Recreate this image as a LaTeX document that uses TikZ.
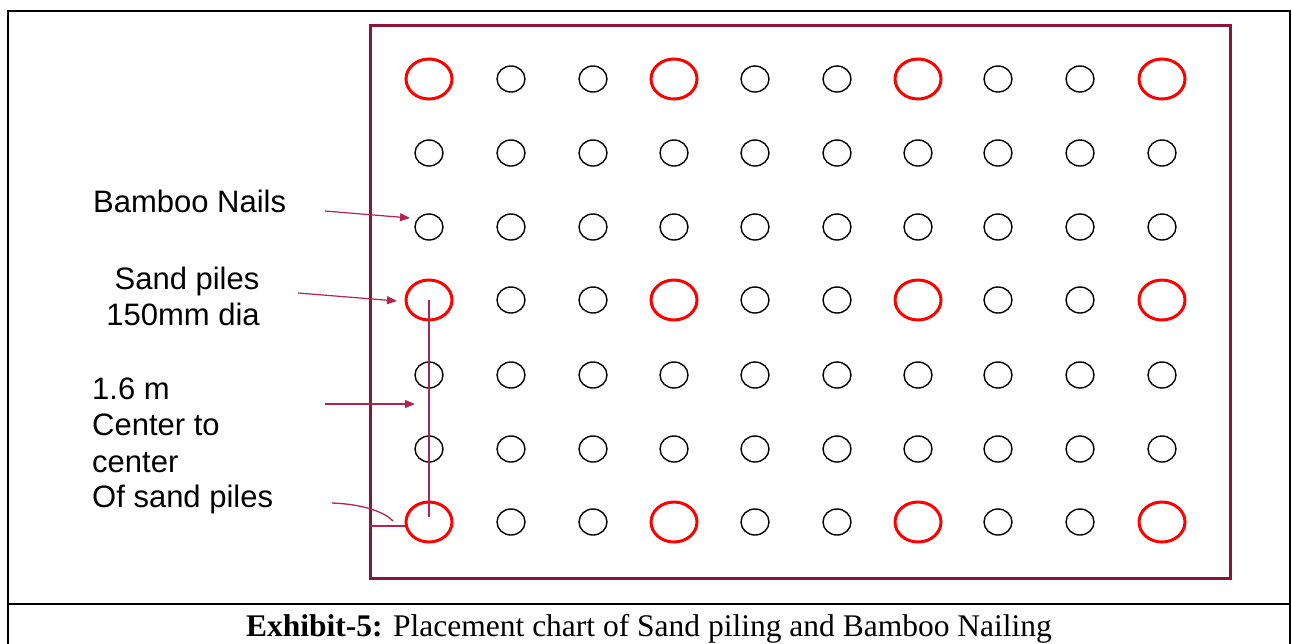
\documentclass[tikz,border=0pt]{standalone}
\usepackage{fontspec}
\setmainfont{Liberation Serif}
\newfontfamily\arialf{Liberation Sans}
\usetikzlibrary{shapes.geometric,arrows.meta}
\definecolor{maroon}{HTML}{8B1538}
\definecolor{crim}{HTML}{B5224F}
\definecolor{pured}{HTML}{FF0000}
\begin{document}
\begin{tikzpicture}[x=1pt,y=-1pt,
  sandpile/.style={draw=pured,line width=3pt,ellipse,minimum width=46pt,minimum height=40pt,inner sep=0pt},
  nail/.style={draw=black,line width=1.4pt,ellipse,minimum width=28pt,minimum height=26pt,inner sep=0pt},
  arr/.style={crim,line width=1.2pt,-{Triangle[length=10pt,width=8pt]}},
  lbl/.style={font=\arialf\fontsize{31}{37}\selectfont,inner sep=0pt},
  frame/.style={draw=black,line width=2.2pt}]
\useasboundingbox (0,0) rectangle (1292,643);
% outer frame
\draw[frame] (8,645) -- (8,11) -- (1290,11) -- (1290,645);
\draw[frame] (8,604) -- (1290,604);
% inner plan rectangle
\node[draw=maroon,line width=3pt,minimum width=860pt,minimum height=553pt,inner sep=0pt] (plan) at (800,301.5) {};
% grid of piles and nails
\foreach \c/\x in {0/429,1/511,2/593,3/674,4/755,5/837,6/918,7/998,8/1080,9/1162}{
  \foreach \r/\y in {0/79,1/153,2/227,3/300,4/375,5/449,6/522}{
    \pgfmathtruncatemacro{\isred}{(\r==0 || \r==3 || \r==6) && (\c==0 || \c==3 || \c==6 || \c==9) ? 1 : 0}
    \ifnum\isred=1
      \node[sandpile] (p-\r-\c) at (\x,\y) {};
    \else
      \node[nail] (p-\r-\c) at (\x,\y) {};
    \fi
  }
}
% labels
\node[lbl,anchor=base west] (bn) at (93,212) {Bamboo Nails};
\node[lbl,anchor=base] (sp1) at (187,289) {Sand piles};
\node[lbl,anchor=base] (sp2) at (183,325) {150mm dia};
\node[lbl,anchor=base west] (cc1) at (92,399) {1.6 m};
\node[lbl,anchor=base west] (cc2) at (92,435) {Center to};
\node[lbl,anchor=base west] (cc3) at (92,472) {center};
\node[lbl,anchor=base west] (cc4) at (92,507) {Of sand piles};
% arrow anchors
\coordinate (bnA) at (325,211);
\coordinate (bnB) at (410,218);
\coordinate (spA) at (298,293);
\coordinate (spB) at (397,301);
\coordinate (ccA) at (325,404);
\coordinate (ccB) at (415,404);
\draw[arr] (bnA) -- (bnB);
\draw[arr] (spA) -- (spB);
\draw[arr] (ccA) -- (ccB);
% spacing line
\draw[crim,line width=1.4pt] (p-3-0.center) -- ([yshift=5pt]p-6-0.center);
% bracket
\coordinate (brA) at (332,503);
\coordinate (brB) at (393,521);
\draw[crim,line width=1.3pt] (brA) .. controls (362,504) and (385,512) .. (brB);
\draw[crim,line width=1.3pt] (plan.west |- 0,526) -- (p-6-0.west |- 0,526);
% caption
\node[font=\fontsize{31.5}{34}\selectfont,anchor=base,inner sep=0pt] (cap) at (649,636) {\textbf{Exhibit-5:} Placement chart of Sand piling and Bamboo Nailing};
\end{tikzpicture}
\end{document}
